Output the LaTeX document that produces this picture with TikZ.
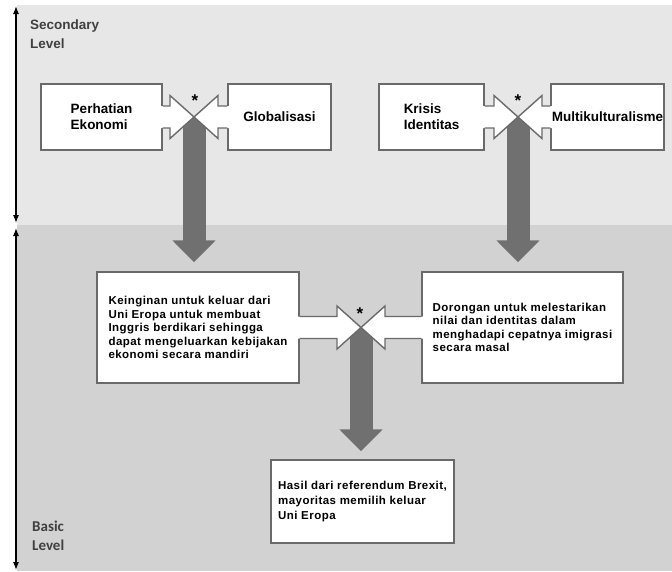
\documentclass[tikz,border=0pt]{standalone}
\usepackage{fontspec}
\setmainfont{Liberation Sans}
\newfontfamily\boxfont{Liberation Sans}[LetterSpace=4]
\newfontfamily\levelfont{Carlito}
\usetikzlibrary{calc,arrows.meta}
\definecolor{topbg}{HTML}{E7E7E7}
\definecolor{basebg}{HTML}{D2D2D2}
\definecolor{boxline}{HTML}{6A6A6A}
\definecolor{flow}{HTML}{707070}
\definecolor{leveltext}{HTML}{404040}
\tikzset{
	kotak/.style={rectangle, draw=boxline, line width=1.4pt, fill=white, 
		inner sep=0pt, align=left},
	faktor/.style={kotak, font=\bfseries\fontsize{13.5}{16}\selectfont, 
		minimum height=66pt},
	dorongan/.style={kotak, font=\boxfont\bfseries\fontsize{11.5}{13.5}\selectfont, 
		minimum height=111pt},
	hasil/.style={kotak, font=\boxfont\bfseries\fontsize{11.5}{15}\selectfont, 
		minimum width=183pt, minimum height=83pt},
	alir/.style={draw=flow, line width=23pt, -{Triangle[width=42pt,length=22pt]}},
	tingkat/.style={{Latex[length=8pt,width=6pt]}-{Latex[length=8pt,width=6pt]}, 
		line width=1.1pt},
	level/.style={text=leveltext, align=left, anchor=west, inner sep=0pt},
	bintang/.style={font=\bfseries\fontsize{17}{17}\selectfont, inner sep=0pt}
}
% lengan: #1 sisi kotak, #2 ujung, #3 arah (1 ke kanan, -1 ke kiri)
\newcommand{\lengan}[3]{%
	\fill[white] ($(#1)+({-2*#3},11)$) -- ($(#2)+({-24*#3},11)$) 
		-- ($(#2)+({-24*#3},21.5)$) -- (#2) -- ($(#2)+({-24*#3},-21.5)$) 
		-- ($(#2)+({-24*#3},-11)$) -- ($(#1)+({-2*#3},-11)$) -- cycle;
	\draw[boxline, line width=1.4pt] ($(#1)+(0,11)$) -- ($(#2)+({-24*#3},11)$) 
		-- ($(#2)+({-24*#3},21.5)$) -- (#2) -- ($(#2)+({-24*#3},-21.5)$) 
		-- ($(#2)+({-24*#3},-11)$) -- ($(#1)+(0,-11)$);
}

\begin{document}
\begin{tikzpicture}[x=1pt,y=1pt]
	\useasboundingbox (0,0) rectangle (672,-571);
	\fill[white] (0,0) rectangle (672,-571);
	\fill[topbg] (17,-5) rectangle (672,-225);
	\fill[basebg] (17,-225) rectangle (672,-571);
	
	\coordinate (sekAtas) at (16,-6);
	\coordinate (sekBawah) at (16,-223);
	\coordinate (dasAtas) at (16,-228);
	\coordinate (dasBawah) at (16,-570);
	\draw[tingkat] (sekAtas) -- (sekBawah);
	\draw[tingkat] (dasAtas) -- (dasBawah);
	\node[level, font=\bfseries\fontsize{13.5}{19}\selectfont] (sekunder) at (30,-34.5) {Secondary\\Level};
	\node[level, font=\levelfont\bfseries\fontsize{15}{19}\selectfont] (dasar) at (32,-535.5) {Basic\\Level};
	
	\node[faktor, minimum width=121pt] (ekonomi) at (101.5,-117) {Perhatian\\Ekonomi};
	\node[faktor, minimum width=103pt] (global) at (279.5,-117) {Globalisasi};
	\node[faktor, minimum width=105pt] (krisis) at (431.5,-117) {Krisis\\Identitas};
	\node[faktor, minimum width=113pt] (multi) at (607.5,-117) {Multikulturalisme};
	
	\node[dorongan, minimum width=202pt] (keluar) at (198,-327.5) {Keinginan untuk keluar dari\\Uni Eropa untuk membuat\\Inggris berdikari sehingga\\dapat mengeluarkan kebijakan\\ekonomi secara mandiri};
	\node[dorongan, minimum width=201pt] (lestari) at (522.5,-327.5) {Dorongan untuk melestarikan\\nilai dan identitas dalam\\menghadapi cepatnya imigrasi\\secara masal};
	
	\node[hasil] (brexit) at (362.5,-501.5) {Hasil dari referendum Brexit,\\mayoritas memilih keluar\\Uni Eropa};
	
	\coordinate (temu1) at (194,-117);
	\coordinate (temu2) at (518,-117);
	\coordinate (temu3) at (361,-327.5);
	
	\draw[alir, shorten >=9pt] (temu1) -- (temu1 |- keluar.north);
	\draw[alir, shorten >=9pt] (temu2) -- (temu2 |- lestari.north);
	\draw[alir, shorten >=8pt] (temu3) -- (temu3 |- brexit.north);
	
	\lengan{ekonomi.east}{temu1}{1}
	\lengan{global.west}{temu1}{-1}
	\lengan{krisis.east}{temu2}{1}
	\lengan{multi.west}{temu2}{-1}
	\lengan{keluar.east}{temu3}{1}
	\lengan{lestari.west}{temu3}{-1}
	
	\node[bintang] (bintang1) at (195,-101) {*};
	\node[bintang] (bintang2) at (518,-101) {*};
	\node[bintang] (bintang3) at (360,-314) {*};
\end{tikzpicture}
\end{document}
